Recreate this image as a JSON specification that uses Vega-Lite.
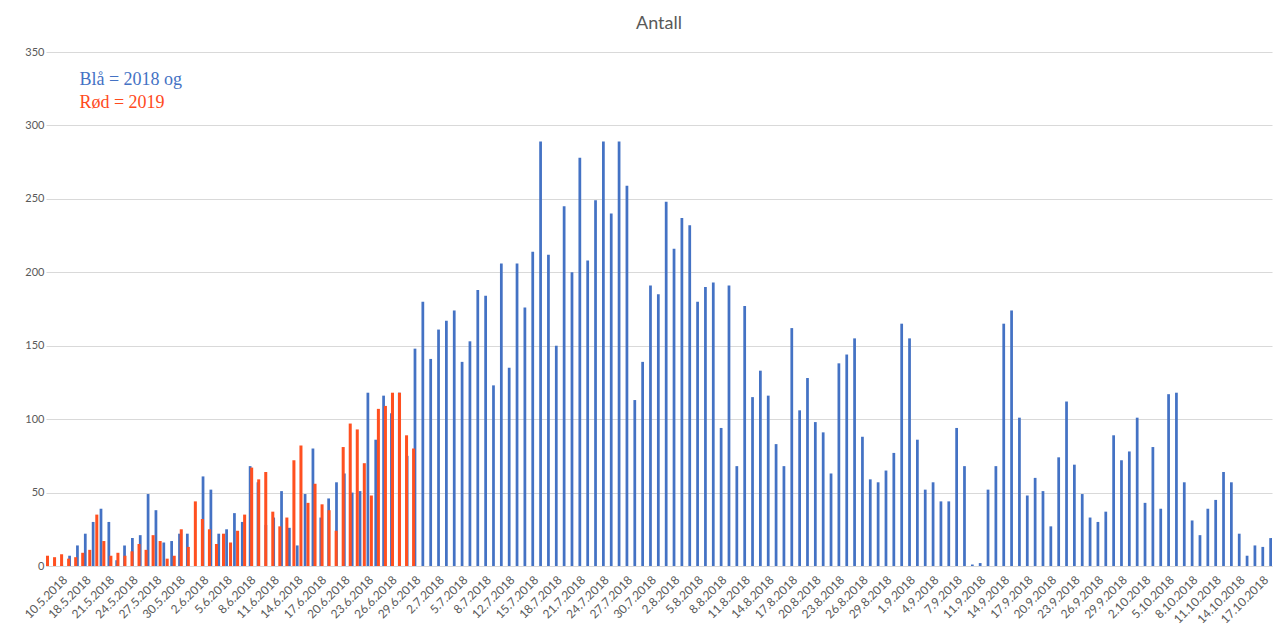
{
"$schema": "https://vega.github.io/schema/vega-lite/v6.json",
"width": 1226,
"height": 514,
"autosize": {"type": "none"},
"padding": {"left": 46, "top": 52, "right": 1, "bottom": 64},
"background": "white",
"title": {"text": "Antall", "fontSize": 18, "font": "Lato", "fontWeight": "normal", "color": "#595959", "offset": 13, "anchor": "middle"},
"config": {"view": {"stroke": null}, "axis": {"labelFont": "Lato", "labelColor": "#595959", "labelFontSize": 11}},
"datasets": {
"s2018": [
{"dato":"10.5.2018","antall":1},{"dato":"16.5.2018","antall":7},{"dato":"17.5.2018","antall":14},{"dato":"18.5.2018","antall":22},{"dato":"19.5.2018","antall":30},{"dato":"20.5.2018","antall":39},{"dato":"21.5.2018","antall":30},{"dato":"22.5.2018","antall":4},{"dato":"23.5.2018","antall":14},{"dato":"24.5.2018","antall":19},{"dato":"25.5.2018","antall":21},{"dato":"26.5.2018","antall":49},{"dato":"27.5.2018","antall":38},{"dato":"28.5.2018","antall":16},{"dato":"29.5.2018","antall":17},{"dato":"30.5.2018","antall":22},{"dato":"31.5.2018","antall":22},{"dato":"1.6.2018","antall":0},{"dato":"2.6.2018","antall":61},{"dato":"3.6.2018","antall":52},{"dato":"4.6.2018","antall":22},{"dato":"5.6.2018","antall":25},{"dato":"6.6.2018","antall":36},{"dato":"7.6.2018","antall":30},{"dato":"8.6.2018","antall":68},{"dato":"9.6.2018","antall":57},{"dato":"10.6.2018","antall":28},{"dato":"11.6.2018","antall":33},{"dato":"12.6.2018","antall":51},{"dato":"13.6.2018","antall":26},{"dato":"14.6.2018","antall":14},{"dato":"15.6.2018","antall":49},{"dato":"16.6.2018","antall":80},{"dato":"17.6.2018","antall":33},{"dato":"18.6.2018","antall":46},{"dato":"19.6.2018","antall":57},{"dato":"20.6.2018","antall":63},{"dato":"21.6.2018","antall":50},{"dato":"22.6.2018","antall":51},{"dato":"23.6.2018","antall":118},{"dato":"24.6.2018","antall":86},{"dato":"25.6.2018","antall":116},{"dato":"26.6.2018","antall":104},{"dato":"27.6.2018","antall":118},{"dato":"28.6.2018","antall":75},{"dato":"29.6.2018","antall":148},{"dato":"30.6.2018","antall":180},{"dato":"1.7.2018","antall":141},{"dato":"2.7.2018","antall":161},{"dato":"3.7.2018","antall":167},{"dato":"4.7.2018","antall":174},{"dato":"5.7.2018","antall":139},{"dato":"6.7.2018","antall":153},{"dato":"7.7.2018","antall":188},{"dato":"8.7.2018","antall":184},{"dato":"10.7.2018","antall":123},{"dato":"11.7.2018","antall":206},{"dato":"12.7.2018","antall":135},{"dato":"13.7.2018","antall":206},{"dato":"14.7.2018","antall":176},{"dato":"15.7.2018","antall":214},{"dato":"16.7.2018","antall":289},{"dato":"17.7.2018","antall":212},{"dato":"18.7.2018","antall":150},{"dato":"19.7.2018","antall":245},{"dato":"20.7.2018","antall":200},{"dato":"21.7.2018","antall":278},{"dato":"22.7.2018","antall":208},{"dato":"23.7.2018","antall":249},{"dato":"24.7.2018","antall":289},{"dato":"25.7.2018","antall":240},{"dato":"26.7.2018","antall":289},{"dato":"27.7.2018","antall":259},{"dato":"28.7.2018","antall":113},{"dato":"29.7.2018","antall":139},{"dato":"30.7.2018","antall":191},{"dato":"31.7.2018","antall":185},{"dato":"1.8.2018","antall":248},{"dato":"2.8.2018","antall":216},{"dato":"3.8.2018","antall":237},{"dato":"4.8.2018","antall":232},{"dato":"5.8.2018","antall":180},{"dato":"6.8.2018","antall":190},{"dato":"7.8.2018","antall":193},{"dato":"8.8.2018","antall":94},{"dato":"9.8.2018","antall":191},{"dato":"10.8.2018","antall":68},{"dato":"11.8.2018","antall":177},{"dato":"12.8.2018","antall":115},{"dato":"13.8.2018","antall":133},{"dato":"14.8.2018","antall":116},{"dato":"15.8.2018","antall":83},{"dato":"16.8.2018","antall":68},{"dato":"17.8.2018","antall":162},{"dato":"18.8.2018","antall":106},{"dato":"19.8.2018","antall":128},{"dato":"20.8.2018","antall":98},{"dato":"21.8.2018","antall":91},{"dato":"22.8.2018","antall":63},{"dato":"23.8.2018","antall":138},{"dato":"24.8.2018","antall":144},{"dato":"25.8.2018","antall":155},{"dato":"26.8.2018","antall":88},{"dato":"27.8.2018","antall":59},{"dato":"28.8.2018","antall":57},{"dato":"29.8.2018","antall":65},{"dato":"30.8.2018","antall":77},{"dato":"31.8.2018","antall":165},{"dato":"1.9.2018","antall":155},{"dato":"2.9.2018","antall":86},{"dato":"3.9.2018","antall":52},{"dato":"4.9.2018","antall":57},{"dato":"5.9.2018","antall":44},{"dato":"6.9.2018","antall":44},{"dato":"7.9.2018","antall":94},{"dato":"9.9.2018","antall":68},{"dato":"10.9.2018","antall":1},{"dato":"11.9.2018","antall":2},{"dato":"12.9.2018","antall":52},{"dato":"13.9.2018","antall":68},{"dato":"14.9.2018","antall":165},{"dato":"15.9.2018","antall":174},{"dato":"16.9.2018","antall":101},{"dato":"17.9.2018","antall":48},{"dato":"18.9.2018","antall":60},{"dato":"19.9.2018","antall":51},{"dato":"20.9.2018","antall":27},{"dato":"21.9.2018","antall":74},{"dato":"22.9.2018","antall":112},{"dato":"23.9.2018","antall":69},{"dato":"24.9.2018","antall":49},{"dato":"25.9.2018","antall":33},{"dato":"26.9.2018","antall":30},{"dato":"27.9.2018","antall":37},{"dato":"28.9.2018","antall":89},{"dato":"29.9.2018","antall":72},{"dato":"30.9.2018","antall":78},{"dato":"1.10.2018","antall":101},{"dato":"2.10.2018","antall":43},{"dato":"3.10.2018","antall":81},{"dato":"4.10.2018","antall":39},{"dato":"5.10.2018","antall":117},{"dato":"6.10.2018","antall":118},{"dato":"7.10.2018","antall":57},{"dato":"8.10.2018","antall":31},{"dato":"9.10.2018","antall":21},{"dato":"10.10.2018","antall":39},{"dato":"11.10.2018","antall":45},{"dato":"12.10.2018","antall":64},{"dato":"13.10.2018","antall":57},{"dato":"14.10.2018","antall":22},{"dato":"15.10.2018","antall":7},{"dato":"16.10.2018","antall":14},{"dato":"17.10.2018","antall":13},{"dato":"18.10.2018","antall":19}
],
"s2019": [
{"dato":"2.5.2019","antall":7},{"dato":"3.5.2019","antall":6},{"dato":"4.5.2019","antall":8},{"dato":"5.5.2019","antall":5},{"dato":"6.5.2019","antall":6},{"dato":"7.5.2019","antall":9},{"dato":"8.5.2019","antall":11},{"dato":"9.5.2019","antall":35},{"dato":"10.5.2019","antall":17},{"dato":"11.5.2019","antall":7},{"dato":"12.5.2019","antall":9},{"dato":"13.5.2019","antall":7},{"dato":"14.5.2019","antall":10},{"dato":"15.5.2019","antall":15},{"dato":"16.5.2019","antall":11},{"dato":"17.5.2019","antall":21},{"dato":"18.5.2019","antall":17},{"dato":"19.5.2019","antall":5},{"dato":"20.5.2019","antall":7},{"dato":"21.5.2019","antall":25},{"dato":"22.5.2019","antall":13},{"dato":"23.5.2019","antall":44},{"dato":"24.5.2019","antall":32},{"dato":"25.5.2019","antall":25},{"dato":"26.5.2019","antall":15},{"dato":"27.5.2019","antall":22},{"dato":"28.5.2019","antall":16},{"dato":"29.5.2019","antall":24},{"dato":"30.5.2019","antall":35},{"dato":"31.5.2019","antall":67},{"dato":"1.6.2019","antall":59},{"dato":"2.6.2019","antall":64},{"dato":"3.6.2019","antall":37},{"dato":"4.6.2019","antall":27},{"dato":"5.6.2019","antall":33},{"dato":"6.6.2019","antall":72},{"dato":"7.6.2019","antall":82},{"dato":"8.6.2019","antall":43},{"dato":"9.6.2019","antall":56},{"dato":"10.6.2019","antall":42},{"dato":"11.6.2019","antall":38},{"dato":"12.6.2019","antall":24},{"dato":"13.6.2019","antall":81},{"dato":"14.6.2019","antall":97},{"dato":"15.6.2019","antall":93},{"dato":"16.6.2019","antall":70},{"dato":"17.6.2019","antall":48},{"dato":"18.6.2019","antall":107},{"dato":"19.6.2019","antall":109},{"dato":"20.6.2019","antall":118},{"dato":"21.6.2019","antall":118},{"dato":"22.6.2019","antall":89},{"dato":"23.6.2019","antall":80},
{"dato":"24.6.2019","antall":null},{"dato":"25.6.2019","antall":null},{"dato":"26.6.2019","antall":null},{"dato":"27.6.2019","antall":null},{"dato":"28.6.2019","antall":null},{"dato":"29.6.2019","antall":null},{"dato":"30.6.2019","antall":null},
{"dato":"1.7.2019","antall":null},{"dato":"2.7.2019","antall":null},{"dato":"3.7.2019","antall":null},{"dato":"4.7.2019","antall":null},{"dato":"5.7.2019","antall":null},{"dato":"6.7.2019","antall":null},{"dato":"7.7.2019","antall":null},{"dato":"8.7.2019","antall":null},{"dato":"9.7.2019","antall":null},{"dato":"10.7.2019","antall":null},{"dato":"11.7.2019","antall":null},{"dato":"12.7.2019","antall":null},{"dato":"13.7.2019","antall":null},{"dato":"14.7.2019","antall":null},{"dato":"15.7.2019","antall":null},{"dato":"16.7.2019","antall":null},{"dato":"17.7.2019","antall":null},{"dato":"18.7.2019","antall":null},{"dato":"19.7.2019","antall":null},{"dato":"20.7.2019","antall":null},{"dato":"21.7.2019","antall":null},{"dato":"22.7.2019","antall":null},{"dato":"23.7.2019","antall":null},{"dato":"24.7.2019","antall":null},{"dato":"25.7.2019","antall":null},{"dato":"26.7.2019","antall":null},{"dato":"27.7.2019","antall":null},{"dato":"28.7.2019","antall":null},{"dato":"29.7.2019","antall":null},{"dato":"30.7.2019","antall":null},{"dato":"31.7.2019","antall":null},
{"dato":"1.8.2019","antall":null},{"dato":"2.8.2019","antall":null},{"dato":"3.8.2019","antall":null},{"dato":"4.8.2019","antall":null},{"dato":"5.8.2019","antall":null},{"dato":"6.8.2019","antall":null},{"dato":"7.8.2019","antall":null},{"dato":"8.8.2019","antall":null},{"dato":"9.8.2019","antall":null},{"dato":"10.8.2019","antall":null},{"dato":"11.8.2019","antall":null},{"dato":"12.8.2019","antall":null},{"dato":"13.8.2019","antall":null},{"dato":"14.8.2019","antall":null},{"dato":"15.8.2019","antall":null},{"dato":"16.8.2019","antall":null},{"dato":"17.8.2019","antall":null},{"dato":"18.8.2019","antall":null},{"dato":"19.8.2019","antall":null},{"dato":"20.8.2019","antall":null},{"dato":"21.8.2019","antall":null},{"dato":"22.8.2019","antall":null},{"dato":"23.8.2019","antall":null},{"dato":"24.8.2019","antall":null},{"dato":"25.8.2019","antall":null},{"dato":"26.8.2019","antall":null},{"dato":"27.8.2019","antall":null},{"dato":"28.8.2019","antall":null},{"dato":"29.8.2019","antall":null},{"dato":"30.8.2019","antall":null},{"dato":"31.8.2019","antall":null},
{"dato":"1.9.2019","antall":null},{"dato":"2.9.2019","antall":null},{"dato":"3.9.2019","antall":null},{"dato":"4.9.2019","antall":null},{"dato":"5.9.2019","antall":null},{"dato":"6.9.2019","antall":null},{"dato":"7.9.2019","antall":null},{"dato":"8.9.2019","antall":null},{"dato":"9.9.2019","antall":null},{"dato":"10.9.2019","antall":null},{"dato":"11.9.2019","antall":null},{"dato":"12.9.2019","antall":null},{"dato":"13.9.2019","antall":null},{"dato":"14.9.2019","antall":null},{"dato":"15.9.2019","antall":null},{"dato":"16.9.2019","antall":null},{"dato":"17.9.2019","antall":null},{"dato":"18.9.2019","antall":null},{"dato":"19.9.2019","antall":null},{"dato":"20.9.2019","antall":null},{"dato":"21.9.2019","antall":null},{"dato":"22.9.2019","antall":null},{"dato":"23.9.2019","antall":null},{"dato":"24.9.2019","antall":null},{"dato":"25.9.2019","antall":null},{"dato":"26.9.2019","antall":null},{"dato":"27.9.2019","antall":null},{"dato":"28.9.2019","antall":null},{"dato":"29.9.2019","antall":null},{"dato":"30.9.2019","antall":null},
{"dato":"1.10.2019","antall":null},{"dato":"2.10.2019","antall":null},{"dato":"3.10.2019","antall":null},{"dato":"4.10.2019","antall":null},{"dato":"5.10.2019","antall":null},{"dato":"6.10.2019","antall":null},{"dato":"7.10.2019","antall":null},{"dato":"8.10.2019","antall":null},{"dato":"9.10.2019","antall":null},{"dato":"10.10.2019","antall":null},{"dato":"11.10.2019","antall":null},{"dato":"12.10.2019","antall":null},{"dato":"13.10.2019","antall":null},{"dato":"14.10.2019","antall":null},{"dato":"15.10.2019","antall":null},{"dato":"16.10.2019","antall":null},{"dato":"17.10.2019","antall":null},{"dato":"18.10.2019","antall":null},{"dato":"19.10.2019","antall":null},{"dato":"20.10.2019","antall":null},{"dato":"21.10.2019","antall":null},{"dato":"22.10.2019","antall":null}
]
},
"layer": [
{
"data": {"name": "s2018"},
"encoding": {
"x": {"field": "dato", "type": "ordinal", "sort": null,
"scale": {"paddingInner": 0.65, "paddingOuter": 0.915, "align": 1, "round": false},
"axis": {"title": null, "labelAngle": -45, "labelOverlap": false, "labelBound": false, "labelFlush": false, "ticks": false, "labelPadding": 8, "labelFontSize": 12, "domainColor": "#d9d9d9",
"values": ["10.5.2018","18.5.2018","21.5.2018","24.5.2018","27.5.2018","30.5.2018","2.6.2018","5.6.2018","8.6.2018","11.6.2018","14.6.2018","17.6.2018","20.6.2018","23.6.2018","26.6.2018","29.6.2018","2.7.2018","5.7.2018","8.7.2018","12.7.2018","15.7.2018","18.7.2018","21.7.2018","24.7.2018","27.7.2018","30.7.2018","2.8.2018","5.8.2018","8.8.2018","11.8.2018","14.8.2018","17.8.2018","20.8.2018","23.8.2018","26.8.2018","29.8.2018","1.9.2018","4.9.2018","7.9.2018","11.9.2018","14.9.2018","17.9.2018","20.9.2018","23.9.2018","26.9.2018","29.9.2018","2.10.2018","5.10.2018","8.10.2018","11.10.2018","14.10.2018","17.10.2018"]}}
},
"layer": [
{"mark": {"type": "bar", "color": "#4472C4"},
"encoding": {"y": {"field": "antall", "type": "quantitative", "scale": {"domain": [0, 350], "nice": false},
"axis": {"title": null, "values": [0, 50, 100, 150, 200, 250, 300, 350], "grid": true, "gridColor": "#d9d9d9", "domain": false, "ticks": false, "labelPadding": 2}}}},
{"mark": {"type": "text", "font": "Liberation Serif", "fontSize": 18, "align": "left", "baseline": "middle", "color": "#4472C4", "dx": 2},
"encoding": {"y": {"datum": 331}, "text": {"condition": {"test": "datum.dato === '17.5.2018'", "value": "Blå = 2018 og"}, "value": ""}}},
{"mark": {"type": "text", "font": "Liberation Serif", "fontSize": 18, "align": "left", "baseline": "middle", "color": "#FF4A1C", "dx": 2},
"encoding": {"y": {"datum": 315}, "text": {"condition": {"test": "datum.dato === '17.5.2018'", "value": "Rød = 2019"}, "value": ""}}}
]
},
{
"data": {"name": "s2019"},
"encoding": {
"x": {"field": "dato", "type": "ordinal", "sort": null, "scale": {"paddingInner": 0.57, "paddingOuter": 0.36, "align": 0, "round": false}, "axis": null}
},
"layer": [
{"mark": {"type": "text", "text": ""}, "encoding": {}},
{"mark": {"type": "bar", "color": "#FF5020"},
"encoding": {"y": {"field": "antall", "type": "quantitative"}}}
]
}
],
"resolve": {"scale": {"x": "independent"}}
}
